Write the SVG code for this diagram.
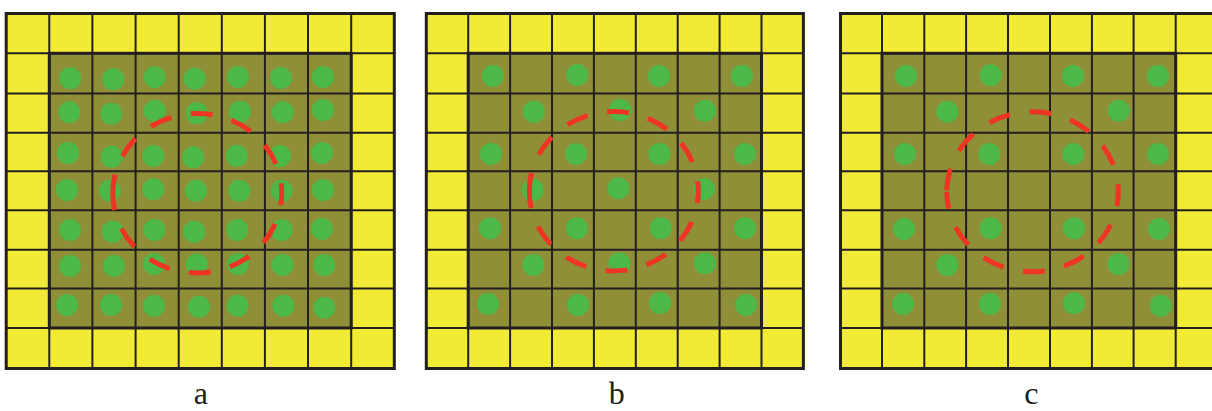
<svg xmlns="http://www.w3.org/2000/svg" width="1212" height="411" viewBox="0 0 1212 411">
<style>
.bg{fill:#ffffff}
.yel{fill:#F2EB35}
.oli{fill:#8F8F38;stroke:#231F20;stroke-width:3}
.grid{fill:none;stroke:#231F20;stroke-width:2}
.outer{fill:none;stroke:#231F20;stroke-width:3}
.dot{fill:#4CB848}
.ring{fill:none;stroke:#EE3524;stroke-width:5;stroke-dasharray:22 19.8;stroke-dashoffset:5}
.lbl{font-family:"Liberation Serif","Times New Roman",serif;font-size:32px;fill:#231F20;text-anchor:middle}
</style>
<rect class="bg" x="0" y="0" width="1212" height="411"/>

<g id="panel-a">
<rect class="yel" x="6.2" y="13.5" width="388.1" height="355"/>
<rect class="oli" x="49.3" y="53.3" width="301.9" height="274.7"/>
<path class="grid" d="M49.3 13.5V368.5M92.4 13.5V368.5M135.6 13.5V368.5M178.7 13.5V368.5M221.8 13.5V368.5M264.9 13.5V368.5M308 13.5V368.5M351.2 13.5V368.5M6.2 53.3H394.3M6.2 93.5H394.3M6.2 132.7H394.3M6.2 171.3H394.3M6.2 210.3H394.3M6.2 249.7H394.3M6.2 288.5H394.3M6.2 328H394.3"/>
<rect class="outer" x="6.2" y="13.5" width="388.1" height="355"/>
<g>
<circle class="dot" cx="70.3" cy="78.3" r="11"/><circle class="dot" cx="113.3" cy="79.3" r="11"/><circle class="dot" cx="154.7" cy="77.3" r="11"/><circle class="dot" cx="194.7" cy="78.7" r="11"/><circle class="dot" cx="238" cy="77" r="11"/><circle class="dot" cx="281" cy="78" r="11"/><circle class="dot" cx="323" cy="77" r="11"/>
<circle class="dot" cx="69.3" cy="112.3" r="11"/><circle class="dot" cx="111.3" cy="113.7" r="11"/><circle class="dot" cx="154.7" cy="110.7" r="11"/><circle class="dot" cx="196.7" cy="113.3" r="11"/><circle class="dot" cx="240" cy="111.7" r="11"/><circle class="dot" cx="282.7" cy="112.3" r="11"/><circle class="dot" cx="323" cy="110" r="11"/>
<circle class="dot" cx="68" cy="153" r="11"/><circle class="dot" cx="111.7" cy="156.7" r="11"/><circle class="dot" cx="153.3" cy="156" r="11"/><circle class="dot" cx="193.3" cy="157.3" r="11"/><circle class="dot" cx="236.7" cy="155.7" r="11"/><circle class="dot" cx="280" cy="156" r="11"/><circle class="dot" cx="322" cy="153" r="11"/>
<circle class="dot" cx="67" cy="190" r="11"/><circle class="dot" cx="110" cy="190.7" r="11"/><circle class="dot" cx="153.3" cy="189.3" r="11"/><circle class="dot" cx="196" cy="190.7" r="11"/><circle class="dot" cx="239.3" cy="190.7" r="11"/><circle class="dot" cx="281.7" cy="190.7" r="11"/><circle class="dot" cx="323" cy="190" r="11"/>
<circle class="dot" cx="70" cy="230" r="11"/><circle class="dot" cx="112.7" cy="231.7" r="11"/><circle class="dot" cx="154.3" cy="230" r="11"/><circle class="dot" cx="194.3" cy="231.7" r="11"/><circle class="dot" cx="237.3" cy="230" r="11"/><circle class="dot" cx="281.7" cy="230" r="11"/><circle class="dot" cx="322" cy="229" r="11"/>
<circle class="dot" cx="70" cy="266" r="11"/><circle class="dot" cx="114" cy="266" r="11"/><circle class="dot" cx="154" cy="264" r="11"/><circle class="dot" cx="196.7" cy="264.3" r="11"/><circle class="dot" cx="238" cy="264" r="11"/><circle class="dot" cx="282.5" cy="265" r="11"/><circle class="dot" cx="324.3" cy="265" r="11"/>
<circle class="dot" cx="67" cy="305" r="11"/><circle class="dot" cx="111" cy="305" r="11"/><circle class="dot" cx="154" cy="306" r="11"/><circle class="dot" cx="199" cy="306.7" r="11"/><circle class="dot" cx="237.7" cy="305.7" r="11"/><circle class="dot" cx="283.3" cy="305.7" r="11"/><circle class="dot" cx="324.3" cy="307.7" r="11"/>
</g>
<path class="ring" d="M112.7 193.2A84.5 79.8 0 1 0 281.7 193.2A84.5 79.8 0 1 0 112.7 193.2"/>
<text class="lbl" x="200.8" y="404">a</text>
</g>

<g id="panel-b">
<rect class="yel" x="426.3" y="13.5" width="377.1" height="355"/>
<rect class="oli" x="468.2" y="53.3" width="293.3" height="274.7"/>
<path class="grid" d="M468.2 13.5V368.5M510.1 13.5V368.5M552 13.5V368.5M593.9 13.5V368.5M635.8 13.5V368.5M677.7 13.5V368.5M719.6 13.5V368.5M761.5 13.5V368.5M426.3 53.3H803.4M426.3 93.5H803.4M426.3 132.7H803.4M426.3 171.3H803.4M426.3 210.3H803.4M426.3 249.7H803.4M426.3 288.5H803.4M426.3 328H803.4"/>
<rect class="outer" x="426.3" y="13.5" width="377.1" height="355"/>
<g>
<circle class="dot" cx="492.7" cy="76" r="11"/><circle class="dot" cx="577.3" cy="75" r="11"/><circle class="dot" cx="659" cy="76" r="11"/><circle class="dot" cx="742" cy="76" r="11"/>
<circle class="dot" cx="534" cy="111.7" r="11"/><circle class="dot" cx="620" cy="110" r="11"/><circle class="dot" cx="705" cy="110.7" r="11"/>
<circle class="dot" cx="491" cy="154" r="11"/><circle class="dot" cx="576" cy="154" r="11"/><circle class="dot" cx="659.3" cy="154" r="11"/><circle class="dot" cx="745" cy="154" r="11"/>
<circle class="dot" cx="532.7" cy="190" r="11"/><circle class="dot" cx="618.3" cy="188.3" r="11"/><circle class="dot" cx="704" cy="189" r="11"/>
<circle class="dot" cx="490" cy="228.3" r="11"/><circle class="dot" cx="576.7" cy="228.3" r="11"/><circle class="dot" cx="660.7" cy="228.3" r="11"/><circle class="dot" cx="745" cy="228.3" r="11"/>
<circle class="dot" cx="533.3" cy="265" r="11"/><circle class="dot" cx="619.3" cy="263.3" r="11"/><circle class="dot" cx="705" cy="263.3" r="11"/>
<circle class="dot" cx="488" cy="304" r="11"/><circle class="dot" cx="578" cy="305" r="11"/><circle class="dot" cx="660" cy="303" r="11"/><circle class="dot" cx="746" cy="305" r="11"/>
</g>
<path class="ring" d="M529.3 191.3A84.5 79.7 0 1 0 698.3 191.3A84.5 79.7 0 1 0 529.3 191.3"/>
<text class="lbl" x="616.7" y="404">b</text>
</g>

<g id="panel-c">
<rect class="yel" x="840.5" y="13.5" width="377.1" height="355"/>
<rect class="oli" x="882" y="53.3" width="293.7" height="274.7"/>
<path class="grid" d="M882 13.5V368.5M924.3 13.5V368.5M966.1 13.5V368.5M1008 13.5V368.5M1050 13.5V368.5M1091.9 13.5V368.5M1133.6 13.5V368.5M1175.7 13.5V368.5M840.5 53.3H1217.6M840.5 93.5H1217.6M840.5 132.7H1217.6M840.5 171.3H1217.6M840.5 210.3H1217.6M840.5 249.7H1217.6M840.5 288.5H1217.6M840.5 328H1217.6"/>
<rect class="outer" x="840.5" y="13.5" width="377.1" height="355"/>
<g>
<circle class="dot" cx="906" cy="76" r="11"/><circle class="dot" cx="990.7" cy="75.3" r="11"/><circle class="dot" cx="1073" cy="76" r="11"/><circle class="dot" cx="1158" cy="76" r="11"/>
<circle class="dot" cx="947.3" cy="111.7" r="11"/><circle class="dot" cx="1118.7" cy="110.7" r="11"/>
<circle class="dot" cx="905" cy="154" r="11"/><circle class="dot" cx="989.3" cy="154" r="11"/><circle class="dot" cx="1073.3" cy="154" r="11"/><circle class="dot" cx="1158" cy="154" r="11"/>
<circle class="dot" cx="904" cy="229" r="11"/><circle class="dot" cx="990.7" cy="228.3" r="11"/><circle class="dot" cx="1074" cy="228.3" r="11"/><circle class="dot" cx="1159" cy="229" r="11"/>
<circle class="dot" cx="947.3" cy="265" r="11"/><circle class="dot" cx="1118.3" cy="264" r="11"/>
<circle class="dot" cx="903" cy="304" r="11"/><circle class="dot" cx="990" cy="304" r="11"/><circle class="dot" cx="1074" cy="303.3" r="11"/><circle class="dot" cx="1160.7" cy="305.7" r="11"/>
</g>
<path class="ring" d="M946.7 191.8A85.8 80 0 1 0 1118.3 191.8A85.8 80 0 1 0 946.7 191.8"/>
<text class="lbl" x="1031.3" y="404">c</text>
</g>
</svg>
